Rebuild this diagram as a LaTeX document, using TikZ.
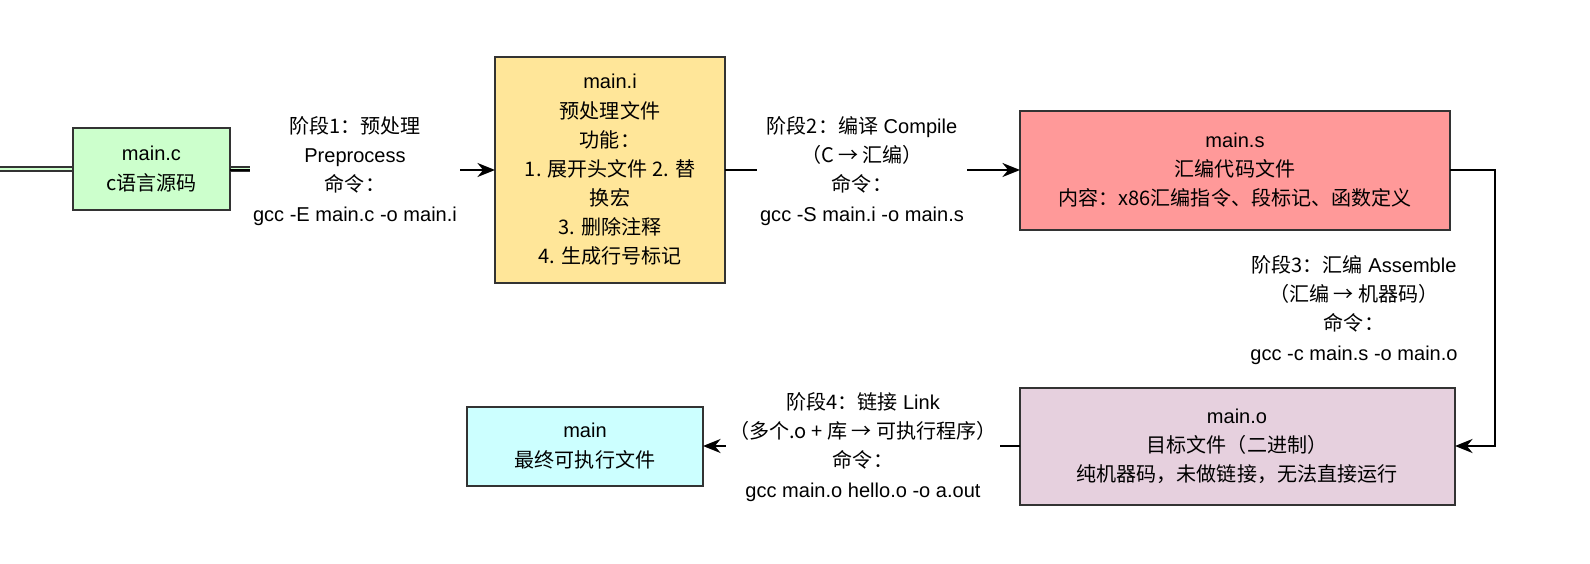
\documentclass[tikz,border=0pt]{standalone}
\usepackage{fontspec}
\setmainfont{Liberation Sans}
\newfontfamily\cj{Noto Sans CJK SC}
\usetikzlibrary{arrows.meta}
\begin{document}
\begin{tikzpicture}[x=0.01cm,y=-0.01cm,
  box/.style={draw=black!80,line width=0.6pt,align=center,inner sep=0pt,font=\fontsize{5.7}{8.3}\selectfont},
  lab/.style={align=center,fill=white,inner sep=1pt,font=\fontsize{5.7}{8.3}\selectfont},
  arr/.style={-{Stealth[length=5pt,width=4pt]},line width=0.6pt}]
\useasboundingbox (0,0) rectangle (1590,564);
\node[box,fill={rgb,255:red,204;green,255;blue,204},minimum width=157\pgflinewidth,text width=150] (c) at (151.5,169) {};
\path (c.center) node[box,draw=none,fill=none] {main.c\\{\cj c语言源码}};
\draw[draw=black!80,line width=0.6pt,fill={rgb,255:red,204;green,255;blue,204}] (73,128) rectangle (230,210);
\node[box,draw=none] (cc) at (151.5,169) {main.c\\{\cj c语言源码}};
\coordinate (cR) at (230,170);
\draw[draw=black!80,line width=0.6pt,fill={rgb,255:red,255;green,230;blue,153}] (495,57) rectangle (725,283);
\node[box,draw=none] (i) at (610,170) {main.i\\{\cj 预处理文件}\\{\cj 功能：}\\{\cj 1. 展开头文件 2. 替}\\{\cj 换宏}\\{\cj 3. 删除注释}\\{\cj 4. 生成行号标记}};
\coordinate (iL) at (495,170); \coordinate (iR) at (725,170);
\draw[draw=black!80,line width=0.6pt,fill={rgb,255:red,255;green,153;blue,153}] (1020,111) rectangle (1450,230);
\node[box,draw=none] (s) at (1235,170) {main.s\\{\cj 汇编代码文件}\\{\cj 内容：x86汇编指令、段标记、函数定义}};
\coordinate (sL) at (1020,170); \coordinate (sR) at (1450,170);
\draw[draw=black!80,line width=0.6pt,fill={rgb,255:red,230;green,208;blue,222}] (1020,388) rectangle (1455,505);
\node[box,draw=none] (o) at (1237,446) {main.o\\{\cj 目标文件（二进制）}\\{\cj 纯机器码，未做链接，无法直接运行}};
\coordinate (oL) at (1020,446); \coordinate (oR) at (1455,446);
\draw[draw=black!80,line width=0.6pt,fill={rgb,255:red,204;green,255;blue,255}] (467,407) rectangle (703,486);
\node[box,draw=none] (m) at (585,446) {main\\{\cj 最终可执行文件}};
\coordinate (mR) at (703,446);
\draw[arr] (cR) -- (iL);
\node[lab] at (355,171) {{\cj 阶段1：预处理}\\Preprocess\\{\cj 命令：}\\gcc -E main.c -o main.i};
\draw[arr] (iR) -- (sL);
\node[lab] at (862,171) {{\cj 阶段2：编译} Compile\\{\cj （C → 汇编）}\\{\cj 命令：}\\gcc -S main.i -o main.s};
\draw[arr] (sR) -- (1495,170) -- (1495,446) -- (oR);
\node[lab] at (1354,310) {{\cj 阶段3：汇编} Assemble\\{\cj （汇编 → 机器码）}\\{\cj 命令：}\\gcc -c main.s -o main.o};
\draw[arr] (oL) -- (mR);
\node[lab] at (863,447) {{\cj 阶段4：链接} Link\\{\cj （多个.o + 库 → 可执行程序）}\\{\cj 命令：}\\gcc main.o hello.o -o a.out};
\end{tikzpicture}
\end{document}
